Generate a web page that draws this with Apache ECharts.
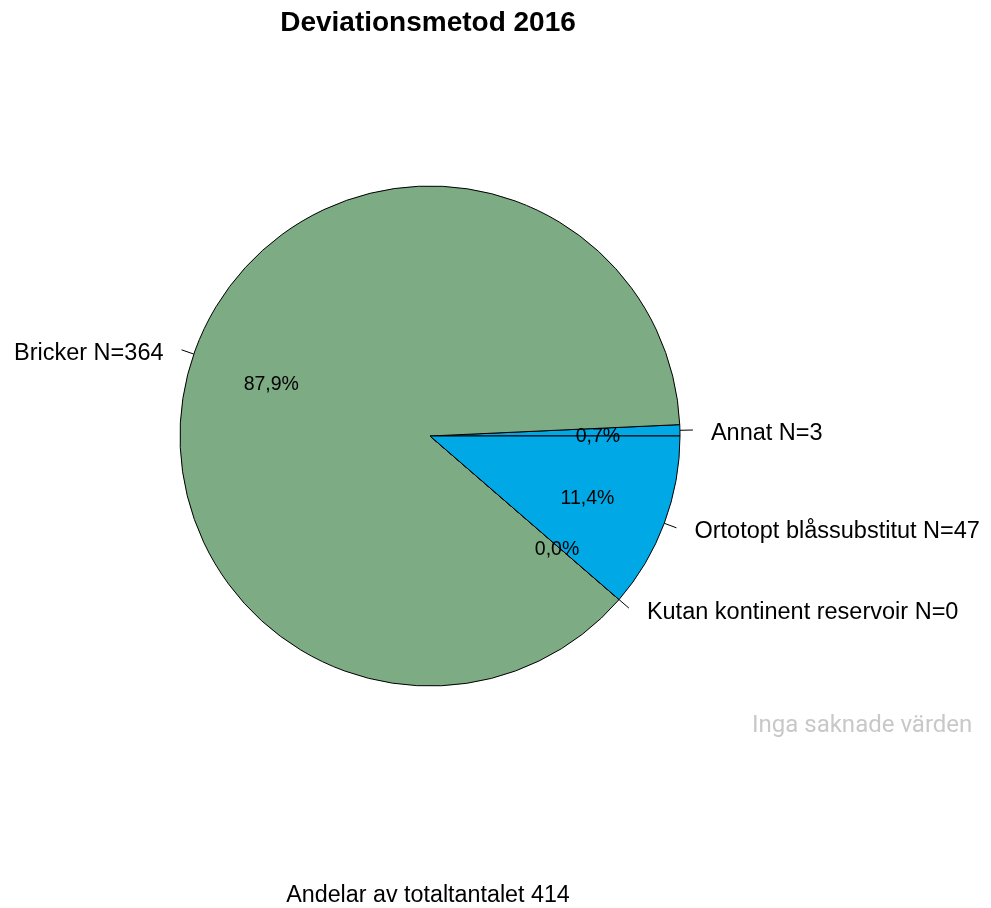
<!DOCTYPE html>
<html>
<head>
<meta charset="utf-8">
<title>Deviationsmetod 2016</title>
<script src="https://cdn.jsdelivr.net/npm/echarts@6/dist/echarts.min.js"></script>
<style>
  html, body { margin: 0; padding: 0; background: #ffffff; }
  #chart { width: 991px; height: 908px; }
</style>
</head>
<body>
<div id="chart"></div>
<script>
// Stoma methods, 2016: counts per category
const categories = ['Annat', 'Bricker', 'Kutan kontinent reservoir', 'Ortotopt blåssubstitut'];
const counts = [3, 364, 0, 47];
const sliceColors = ['#00a9e6', '#7dab83', '#e8b04a', '#00a9e6'];

const titleText = 'Deviationsmetod 2016';
const missingNote = 'Inga saknade värden';

const total = counts.reduce((a, b) => a + b, 0);
const footText = 'Andelar av totaltantalet ' + total;

function pct(v) {
  return (v / total * 100).toFixed(1).replace('.', ',') + '%';
}

const FONT = '"Liberation Sans", Arial, sans-serif';
const cx = 430, cy = 436, R = 250;

const mainData = categories.map((name, i) => ({
  name: name,
  value: counts[i],
  itemStyle: { color: sliceColors[i] }
}));

const pctData = categories.map((name, i) => ({
  name: name,
  value: counts[i]
}));

const chart = echarts.init(document.getElementById('chart'), null, { renderer: 'canvas' });

chart.setOption({
  backgroundColor: '#ffffff',
  animation: false,
  graphic: [
    {
      type: 'text',
      x: 428, y: 23,
      style: {
        text: titleText,
        font: 'bold 28px ' + FONT,
        fill: '#000000',
        textAlign: 'center',
        textVerticalAlign: 'middle'
      }
    },
    {
      type: 'text',
      x: 752, y: 726,
      style: {
        text: missingNote,
        font: '24px Roboto, sans-serif',
        fill: '#c8c8c8',
        textAlign: 'left',
        textVerticalAlign: 'middle'
      }
    },
    {
      type: 'text',
      x: 428, y: 896,
      style: {
        text: footText,
        font: '23.3px ' + FONT,
        fill: '#000000',
        textAlign: 'center',
        textVerticalAlign: 'middle'
      }
    }
  ],
  series: [
    {
      type: 'pie',
      center: [cx, cy],
      radius: R,
      startAngle: 0,
      clockwise: false,
      avoidLabelOverlap: false,
      silent: true,
      minShowLabelAngle: 0,
      itemStyle: { borderColor: '#000000', borderWidth: 1 },
      label: {
        show: true,
        position: 'outside',
        distanceToLabelLine: 18,
        fontFamily: FONT,
        fontSize: 23.5,
        color: '#000000',
        formatter: p => p.name + ' N=' + p.value
      },
      labelLine: {
        show: true,
        length: 13,
        length2: 0,
        smooth: false,
        lineStyle: { color: '#000000', width: 1 }
      },
      labelLayout: { dy: 4 },
      emphasis: { disabled: true },
      data: mainData
    },
    {
      // transparent ring used only to place the share labels at 0.66 of the pie radius
      type: 'pie',
      center: [cx, cy],
      radius: R * 1.32,
      startAngle: 0,
      clockwise: false,
      avoidLabelOverlap: false,
      silent: true,
      minShowLabelAngle: 0,
      z: 3,
      itemStyle: { color: 'rgba(0,0,0,0)', borderWidth: 0 },
      label: {
        show: true,
        position: 'inside',
        fontFamily: FONT,
        fontSize: 19.5,
        color: '#000000',
        formatter: p => pct(p.value)
      },
      labelLine: { show: false },
      labelLayout: { dy: 4 },
      emphasis: { disabled: true },
      data: pctData
    }
  ]
});
</script>
</body>
</html>
